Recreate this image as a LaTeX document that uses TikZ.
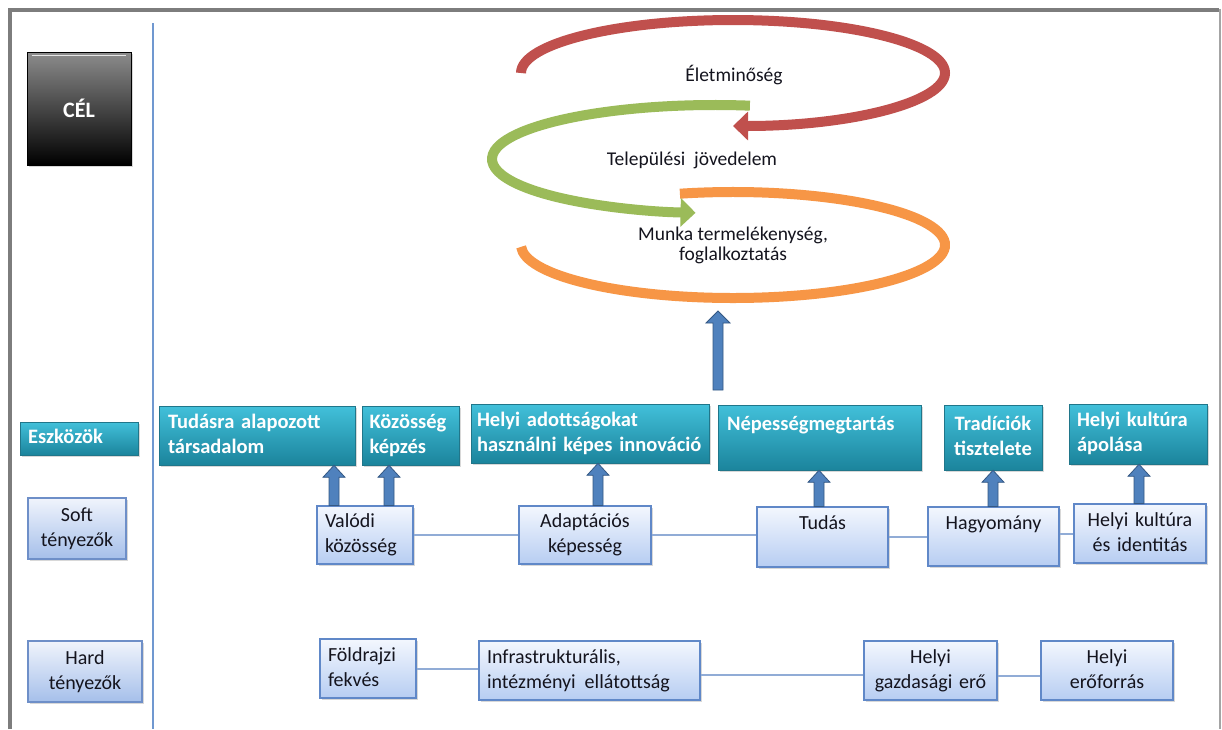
\documentclass[tikz,border=0pt]{standalone}
\usepackage{fontspec}
\setmainfont{Carlito}
\usetikzlibrary{arrows.meta,calc,shadows}
\definecolor{cycred}{RGB}{192,80,77}
\definecolor{cycgreen}{RGB}{155,187,89}
\definecolor{cycorange}{RGB}{247,150,70}
\definecolor{tealtop}{RGB}{66,192,218}
\definecolor{tealbot}{RGB}{27,132,156}
\definecolor{tealline}{RGB}{32,118,138}
\definecolor{softtop}{RGB}{243,247,254}
\definecolor{softbot}{RGB}{183,205,242}
\definecolor{softline}{RGB}{96,136,200}
\definecolor{labtop}{RGB}{240,244,252}
\definecolor{labbot}{RGB}{165,191,234}
\definecolor{labline}{RGB}{110,143,200}
\definecolor{conline}{RGB}{145,172,214}
\definecolor{arrfill}{RGB}{79,129,189}
\definecolor{arrline}{RGB}{52,88,132}
\definecolor{framegray}{RGB}{125,125,125}
\definecolor{axisblue}{RGB}{112,152,208}
\definecolor{txt}{RGB}{20,20,30}
\newcommand{\fatarrow}[4]{\path[blockarrow] let \p1=(#1), \p2=(#2) in
  (\x1-#3pt,\y1) -- (\x1-#3pt,\y2-12pt) -- (\x1-#4pt,\y2-12pt) -- (\x1,\y2)
  -- (\x1+#4pt,\y2-12pt) -- (\x1+#3pt,\y2-12pt) -- (\x1+#3pt,\y1) -- cycle;}
\begin{document}
\begin{tikzpicture}[x=1pt,y=-1pt,
  shad/.style={drop shadow={shadow xshift=2pt,shadow yshift=-2pt,opacity=0.3}},
  tealbox/.style={shad,draw=tealline,line width=0.6,top color=tealtop,bottom color=tealbot,
    text=white,font=\fontsize{20.5}{25}\selectfont\bfseries,inner sep=0},
  softbox/.style={shad,draw=softline,line width=1.2,top color=softtop,bottom color=softbot,
    text=txt,font=\fontsize{20}{25}\selectfont,inner sep=0},
  labbox/.style={shad,draw=labline,line width=2,top color=labtop,bottom color=labbot,
    text=txt,font=\fontsize{20}{25}\selectfont,inner sep=0},
  darkbox/.style={shad,draw=black,line width=0.8,top color=black!45,bottom color=black,
    text=white,font=\fontsize{22}{26}\selectfont\bfseries,inner sep=0},
  cyctext/.style={text=txt,font=\fontsize{19.5}{20}\selectfont,inner sep=0},
  conn/.style={draw=conline,line width=2},
  blockarrow/.style={fill=arrfill,draw=arrline,line width=0.8},
  cycle/.style={line width=10}
]
\useasboundingbox (0,0) rectangle (1222,729);
\fill[white] (0,0) rectangle (1222,729);

% frame and axis
\draw[framegray, line width=4] (10,729) -- (10,9.5) -- (1219,9.5);
\draw[framegray!70, line width=2] (1219.5,8.5) -- (1219.5,729);
\draw[axisblue, line width=1.5] (153,23) -- (153,729);

% cycle arrows
\draw[cycle, cycorange] ({733+212*cos(255.5)},{245+53*sin(255.5)})
  arc[start angle=255.5, end angle=538, x radius=212, y radius=53];
\draw[cycle, cycgreen, -{Triangle[width=28pt,length=15pt]}] ({715+223*cos(279)},{159+54*sin(279)})
  arc[start angle=279, end angle=95, x radius=223, y radius=54];
\draw[cycle, cycred, -{Triangle[width=28pt,length=15pt]}] ({733+212*cos(180)},{73+53*sin(180)})
  arc[start angle=180, end angle=450, x radius=212, y radius=53];

\node[cyctext] (q1) at (734,75) {Életminőség};
\node[cyctext] (q2) at (692,160) {Települési\ \ jövedelem};
\node[cyctext, align=center] (q3) at (733,245) {Munka termelékenység,\\foglalkoztatás};

% left labels
\node[darkbox, minimum width=104, minimum height=113] (CEL) at (79,108.5) {CÉL};
\draw[white, line width=1.5, opacity=0.8] ([shift={(5,4)}]CEL.north west) -- ([shift={(-5,4)}]CEL.north east);
\node[tealbox, minimum width=118, minimum height=33, text width=102, align=left] (ESZ) at (79,438.5) {\strut Eszközök};
\node[labbox, minimum width=98, minimum height=61, text width=92, align=center] (SOFT) at (77,528.5) {\strut Soft\\\strut tényezők};
\node[labbox, minimum width=114, minimum height=61, text width=106, align=center] (HARD) at (85,671.5) {\strut Hard\\\strut tényezők};

% teal (Eszközök) boxes
\node[tealbox, minimum width=196, minimum height=59, text width=178, align=left] (T1) at (257,435.5) {\strut Tudásra alapozott\\\strut társadalom};
\node[tealbox, minimum width=97, minimum height=59, text width=82, align=left] (T2) at (410.5,435.5) {\strut Közösség\\\strut képzés};
\node[tealbox, minimum width=238, minimum height=59, text width=226, align=left] (T3) at (590,433.5) {\strut Helyi adottságokat\\\strut használni képes innováció};
\node[tealbox, minimum width=203, minimum height=65, text width=185, align=left] (T4) at (819.5,437.5) {\strut Népességmegtartás\\\strut};
\node[tealbox, minimum width=98, minimum height=65, text width=92, align=center] (T5) at (993,437.5) {\strut Tradíciók\\\strut tisztelete};
\node[tealbox, minimum width=138, minimum height=60, text width=122, align=left] (T6) at (1138,434) {\strut Helyi kultúra\\\strut ápolása};

% soft factors
\node[softbox, minimum width=96, minimum height=58, text width=80, align=left] (S1) at (365,535) {\strut Valódi\\\strut közösség};
\node[softbox, minimum width=132, minimum height=58, text width=122, align=center] (S2) at (585,535) {\strut Adaptációs\\\strut képesség};
\node[softbox, minimum width=131, minimum height=60, text width=121, align=center] (S3) at (822.5,537) {\strut Tudás\\\strut};
\node[softbox, minimum width=131, minimum height=59, text width=121, align=center] (S4) at (993.5,536.5) {\strut Hagyomány\\\strut};
\node[softbox, minimum width=132, minimum height=59, text width=126, align=center] (S5) at (1140,533.5) {\strut Helyi kultúra\\\strut és identitás};

% hard factors
\node[softbox, minimum width=96, minimum height=59, text width=80, align=left] (H1) at (368,668.5) {\strut Földrajzi\\\strut fekvés};
\node[softbox, minimum width=221, minimum height=59, text width=205, align=left] (H2) at (589.5,670.5) {\strut Infrastrukturális,\\\strut intézményi\hspace{9pt}ellátottság};
\node[softbox, minimum width=133, minimum height=59, text width=125, align=center] (H3) at (930.5,670.5) {\strut Helyi\\\strut gazdasági erő};
\node[softbox, minimum width=132, minimum height=59, text width=122, align=center] (H4) at (1107,670.5) {\strut Helyi\\\strut erőforrás};

% connectors
\draw[conn] (S1.east) -- (S2.west |- S1.east);
\draw[conn] (S2.east) -- (S3.west |- S2.east);
\draw[conn] (S3.east |- S4.west) -- (S4.west);
\draw[conn] (S4.east |- S5.west) -- (S5.west);
\draw[conn] (H1.east) -- (H2.west |- H1.east);
\draw[conn] ([yshift=-4]H2.east) -- ([yshift=-4]H3.west);
\draw[conn] ([yshift=-5]H3.east) -- ([yshift=-5]H4.west);

% block arrows
\fatarrow{334,0 |- S1.north}{334,0 |- T1.south}{5}{11}
\fatarrow{389,0 |- S1.north}{389,0 |- T2.south}{5}{11}
\fatarrow{598,0 |- S2.north}{598,0 |- T3.south}{5}{11}
\fatarrow{819,0 |- S3.north}{819,0 |- T4.south}{5}{11}
\fatarrow{993,0 |- S4.north}{993,0 |- T5.south}{5}{11}
\fatarrow{1139,0 |- S5.north}{1139,0 |- T6.south}{5}{11}
\coordinate (bigbot) at (718,390);
\coordinate (bigtop) at (718,311);
\fatarrow{bigbot}{bigtop}{5}{12}
\end{tikzpicture}
\end{document}
